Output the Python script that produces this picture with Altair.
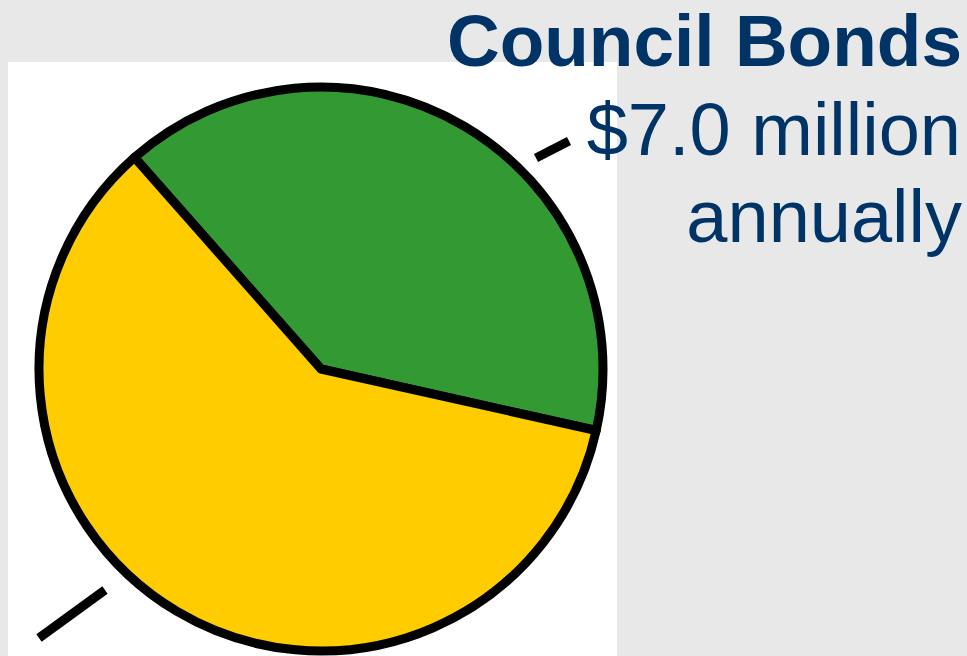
import math
import altair as alt
import pandas as pd

# ---- data ----
categories = ["Council Bonds", "Other"]
shares = [40, 60]
slice_order = [0, 1]
slice_colors = ["#339933", "#FFCC00"]

label_lines = ["Council Bonds", "$7.0 million", "annually"]

# ---- styling / layout ----
W, H = 967, 656
BG = "#e8e8e8"
NAVY = "#003366"
start_deg = 318.6
start = math.radians(start_deg)

pie_df = pd.DataFrame({"category": categories, "value": shares, "order": slice_order})
text_df = pd.DataFrame({"line": label_lines})
one = pd.DataFrame({"k": [0]})

panel = alt.Chart(one).mark_rect(color="white").encode(
    x=alt.value(8), x2=alt.value(617), y=alt.value(62), y2=alt.value(H)
)

pie = alt.Chart(pie_df).mark_arc(
    radius=282, stroke="black", strokeWidth=9, strokeJoin="round"
).encode(
    theta=alt.Theta("value:Q", stack=True,
                    scale=alt.Scale(range=[start, start + 2 * math.pi])),
    order=alt.Order("order:Q"),
    color=alt.Color("category:N",
                    scale=alt.Scale(domain=categories, range=slice_colors),
                    legend=None),
    x=alt.value(321),
    y=alt.value(369),
)

leader1 = alt.Chart(one).mark_rule(color="black", strokeWidth=9, strokeCap="butt").encode(
    x=alt.value(536), y=alt.value(158), x2=alt.value(569), y2=alt.value(141)
)
leader2 = alt.Chart(one).mark_rule(color="black", strokeWidth=9, strokeCap="butt").encode(
    x=alt.value(39), y=alt.value(638), x2=alt.value(105), y2=alt.value(590)
)

title = alt.Chart(text_df).transform_filter(
    alt.datum.line == label_lines[0]
).mark_text(
    font="Liberation Sans", fontWeight="bold", fontSize=73, color=NAVY,
    align="right", baseline="alphabetic"
).encode(text="line:N", x=alt.value(962), y=alt.value(66))

sub1 = alt.Chart(text_df).transform_filter(
    alt.datum.line == label_lines[1]
).mark_text(
    font="Liberation Sans", fontSize=74, color=NAVY,
    align="right", baseline="alphabetic"
).encode(text="line:N", x=alt.value(961), y=alt.value(155))

sub2 = alt.Chart(text_df).transform_filter(
    alt.datum.line == label_lines[2]
).mark_text(
    font="Liberation Sans", fontSize=74, color=NAVY,
    align="right", baseline="alphabetic"
).encode(text="line:N", x=alt.value(962), y=alt.value(242))

chart = alt.layer(panel, pie, leader1, leader2, title, sub1, sub2).properties(
    width=W, height=H, padding=0,
    autosize=alt.AutoSizeParams(type="none"),
    background=BG,
).configure_view(stroke=None)

chart.save(
    "out.html",
    embed_options={
        "renderer": "svg",
        "actions": False,
        "defaultStyle": "body{margin:0 !important;background:#e8e8e8;overflow:hidden;}",
    },
)
